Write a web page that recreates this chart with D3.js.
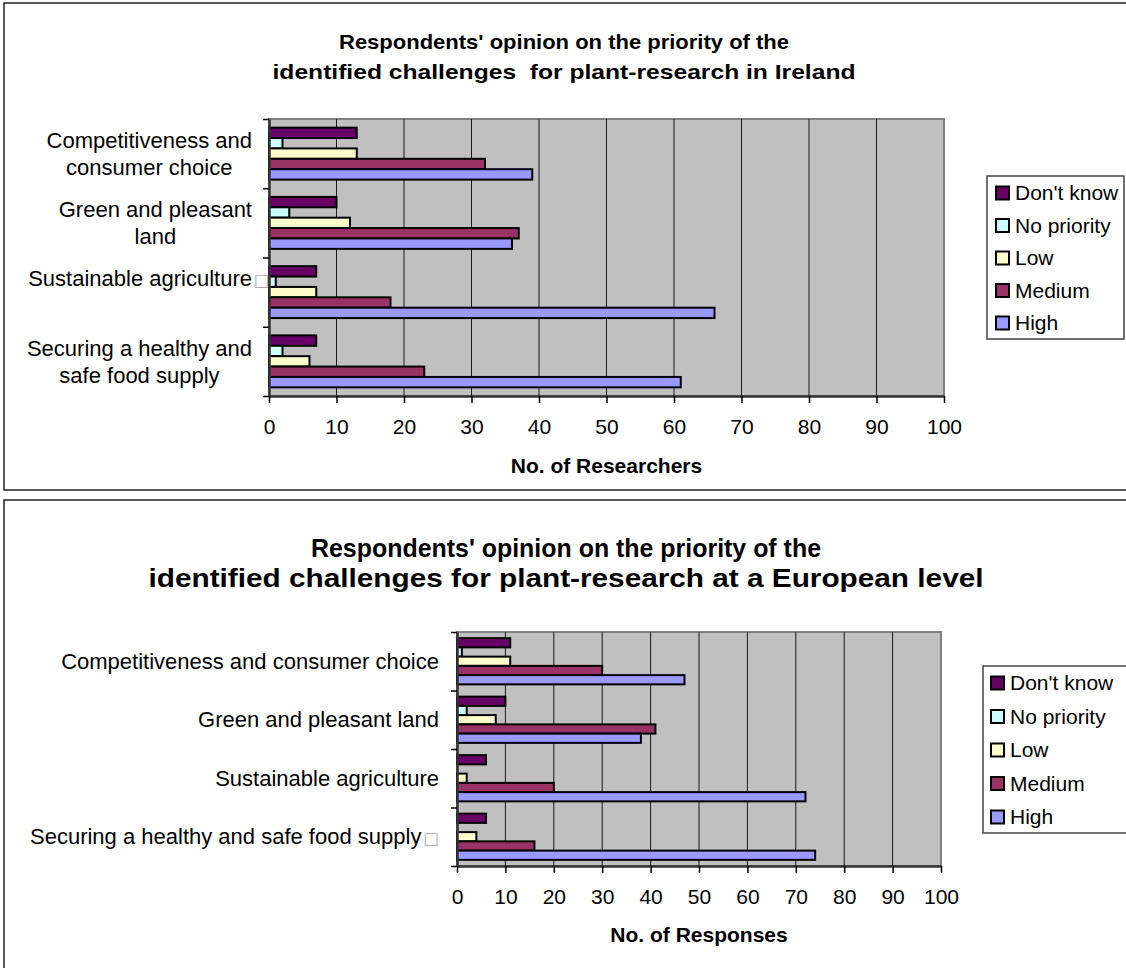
<!DOCTYPE html>
<html>
<head>
<meta charset="utf-8">
<script src="https://cdn.jsdelivr.net/npm/d3@7"></script>
<style>
  html, body { margin: 0; padding: 0; background: #fff; }
  svg { display: block; font-family: "Liberation Sans", Arial, sans-serif; }
</style>
</head>
<body>
<div id="chart"></div>
<script>
// categories, top to bottom
const irelandLabels = [
  ["Competitiveness and", "consumer choice"],
  ["Green and pleasant", "land"],
  ["Sustainable agriculture\u25A1", ""],
  ["Securing a healthy and", "safe food supply"]
];
const europeLabels = [
  ["Competitiveness and consumer choice"],
  ["Green and pleasant land"],
  ["Sustainable agriculture"],
  ["Securing a healthy and safe food supply\u25A1"]
];

const seriesNames = ["Don't know", "No priority", "Low", "Medium", "High"];
const seriesColors = ["#660066", "#CCFFFF", "#FFFFCC", "#993366", "#9999FF"];

// Ireland (No. of Researchers)
const irelandDontKnow = [13, 10, 7, 7];
const irelandNoPriority = [2, 3, 1, 2];
const irelandLow = [13, 12, 7, 6];
const irelandMedium = [32, 37, 18, 23];
const irelandHigh = [39, 36, 66, 61];

// Europe (No. of Responses)
const europeDontKnow = [11, 10, 6, 6];
const europeNoPriority = [1, 2, 0, 0];
const europeLow = [11, 8, 2, 4];
const europeMedium = [30, 41, 20, 16];
const europeHigh = [47, 38, 72, 74];

const xTicks = [0, 10, 20, 30, 40, 50, 60, 70, 80, 90, 100];

const svg = d3.select('#chart').append('svg')
  .attr('width', 1126)
  .attr('height', 968);

function drawChart(opts) {
  const g = svg.append('g');

  // outer chart frame
  g.append('rect')
    .attr('x', opts.frame[0]).attr('y', opts.frame[1])
    .attr('width', opts.frame[2]).attr('height', opts.frame[3])
    .attr('fill', '#fff').attr('stroke', '#222').attr('stroke-width', 1.5);

  // title (lines stretched to the widths seen in the original)
  g.append('g').selectAll('text')
    .data(opts.title)
    .enter().append('text')
    .attr('x', opts.titleX)
    .attr('y', (d, i) => opts.titleY[i])
    .attr('dy', '0.35em')
    .attr('text-anchor', 'middle')
    .attr('font-weight', 'bold')
    .attr('font-size', opts.titleSize)
    .attr('textLength', (d, i) => opts.titleWidth[i])
    .attr('lengthAdjust', 'spacingAndGlyphs')
    .text(d => d);

  const p = opts.plot;
  const x = d3.scaleLinear().domain([0, 100]).range([p.left, p.right]);
  const y = d3.scaleBand().domain(d3.range(opts.labels.length)).range([p.top, p.bottom]);
  const inner = d3.scaleBand().domain(d3.range(seriesNames.length))
    .range([(y.bandwidth() - y.bandwidth() * opts.groupFrac) / 2,
            (y.bandwidth() + y.bandwidth() * opts.groupFrac) / 2]);

  // plot area
  g.append('rect')
    .attr('x', p.left).attr('y', p.top)
    .attr('width', p.right - p.left).attr('height', p.bottom - p.top)
    .attr('fill', '#C0C0C0').attr('stroke', '#808080').attr('stroke-width', 2);

  // gridlines
  g.append('g').selectAll('line')
    .data(xTicks.slice(1, -1))
    .enter().append('line')
    .attr('x1', d => x(d)).attr('x2', d => x(d))
    .attr('y1', p.top).attr('y2', p.bottom)
    .attr('stroke', '#1a1a1a').attr('stroke-width', 1);

  // bars
  opts.values.forEach((vals, s) => {
    g.append('g').selectAll('rect')
      .data(vals)
      .enter().append('rect')
      .attr('x', x(0))
      .attr('y', (d, i) => y(i) + inner(s))
      .attr('width', d => x(d) - x(0))
      .attr('height', inner.bandwidth())
      .attr('fill', seriesColors[s])
      .attr('stroke', '#000')
      .attr('stroke-width', 2)
      .attr('display', d => d > 0 ? null : 'none');
  });

  // x axis
  const xAxis = g.append('g')
    .attr('transform', `translate(0,${p.bottom})`)
    .call(d3.axisBottom(x).tickValues(xTicks).tickSize(7).tickSizeOuter(0).tickPadding(16.5));
  xAxis.select('.domain').attr('stroke', '#333').attr('stroke-width', 2.5);
  xAxis.selectAll('.tick line').attr('stroke', '#000').attr('stroke-width', 1.5);
  xAxis.selectAll('.tick text')
    .attr('font-size', 21).attr('font-family', '"Liberation Sans", Arial, sans-serif').attr('fill', '#000');

  // y axis, ticks on category boundaries
  const yb = d3.scaleLinear().domain([0, opts.labels.length]).range([p.top, p.bottom]);
  const yAxis = g.append('g')
    .attr('transform', `translate(${p.left},0)`)
    .call(d3.axisLeft(yb).ticks(opts.labels.length).tickFormat('').tickSize(6).tickSizeOuter(0));
  yAxis.select('.domain').attr('stroke', '#333').attr('stroke-width', 2.5);
  yAxis.selectAll('.tick line').attr('stroke', '#000').attr('stroke-width', 1.5);

  // category labels
  const lab = g.append('g')
    .attr('font-size', opts.labelSize)
    .attr('text-anchor', 'middle');
  opts.labels.forEach((lines, i) => {
    const cy = y(i) + y.bandwidth() / 2;
    const n = lines.length;
    const t = lab.append('text');
    lines.forEach((ln, j) => {
      const ty = cy + (j - (n - 1) / 2) * opts.lineHeight;
      const box = ln.endsWith('\u25A1');
      t.append('tspan')
        .attr('class', 'ln')
        .attr('x', opts.labelX)
        .attr('y', ty)
        .attr('dy', '0.35em')
        .text(box ? ln.slice(0, -1) : ln);
      if (box) {
        t.append('tspan')
          .attr('class', 'box')
          .attr('dx', 2)
          .attr('font-family', '"DejaVu Sans", sans-serif')
          .attr('font-size', opts.labelSize * 0.75)
          .attr('fill', '#aaa')
          .text('\u25A1');
      }
    });
  });
  // right-align each label block while keeping its lines centred on each other
  lab.selectAll('text').each(function () {
    const bb = this.getBBox();
    let right = bb.x + bb.width;
    const b = d3.select(this).select('.box').node();
    if (b && !opts.boxAligned) right -= b.getComputedTextLength() + 2;
    d3.select(this).attr('transform', `translate(${opts.labelRight - right},0)`);
  });

  // x axis title
  g.append('text')
    .attr('x', (p.left + p.right) / 2)
    .attr('y', opts.xTitleY)
    .attr('dy', '0.35em')
    .attr('text-anchor', 'middle')
    .attr('font-weight', 'bold')
    .attr('font-size', 21)
    .text(opts.xTitle);

  // legend
  const L = opts.legend;
  g.append('rect')
    .attr('x', L.x).attr('y', L.top)
    .attr('width', L.right - L.x).attr('height', L.bottom - L.top)
    .attr('fill', '#fff').attr('stroke', '#444').attr('stroke-width', 1.5);
  const ly = d3.scalePoint().domain(d3.range(seriesNames.length)).range([L.first, L.last]);
  const items = g.append('g').selectAll('g')
    .data(seriesNames)
    .enter().append('g')
    .attr('transform', (d, i) => `translate(${L.x},${ly(i)})`);
  items.append('rect')
    .attr('x', L.sw).attr('y', -6.5)
    .attr('width', 13).attr('height', 13)
    .attr('fill', (d, i) => seriesColors[i])
    .attr('stroke', '#000').attr('stroke-width', 2);
  items.append('text')
    .attr('x', L.tx).attr('dy', '0.35em')
    .attr('font-size', 21)
    .text(d => d);
}

drawChart({
  frame: [4, 3, 1130, 487],
  title: ["Respondents' opinion on the priority of the",
          "identified challenges\u00A0 for plant-research in Ireland"],
  titleSize: 21,
  titleWidth: [450, 583],
  titleX: 564,
  titleY: [42, 72],
  plot: { left: 269, right: 944, top: 119, bottom: 396 },
  groupFrac: 0.75,
  labels: irelandLabels,
  labelSize: 22,
  lineHeight: 27,
  labelX: 150,
  labelRight: 252,
  boxAligned: false,
  values: [irelandDontKnow, irelandNoPriority, irelandLow, irelandMedium, irelandHigh],
  xTitle: "No. of Researchers",
  xTitleY: 466,
  legend: { x: 987, right: 1124, top: 176, bottom: 339, first: 193, last: 323, sw: 9, tx: 28 }
});

drawChart({
  frame: [4, 500, 1130, 480],
  title: ["Respondents' opinion on the priority of the",
          "identified challenges for plant-research at a European level"],
  titleSize: 25,
  titleWidth: [510, 835],
  titleX: 566,
  titleY: [548, 578],
  plot: { left: 457, right: 941, top: 632, bottom: 866 },
  groupFrac: 0.79,
  labels: europeLabels,
  labelSize: 22,
  lineHeight: 27,
  labelX: 250,
  labelRight: 439,
  boxAligned: true,
  values: [europeDontKnow, europeNoPriority, europeLow, europeMedium, europeHigh],
  xTitle: "No. of Responses",
  xTitleY: 935,
  legend: { x: 983, right: 1130, top: 666, bottom: 833, first: 683, last: 817, sw: 8, tx: 27 }
});
</script>
</body>
</html>
